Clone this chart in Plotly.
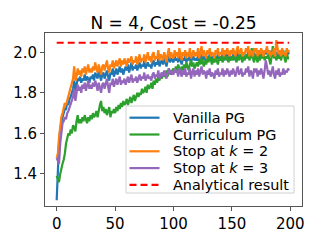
import plotly.graph_objects as go

steps = list(range(200))

vanilla = [
    1.27, 1.45, 1.55, 1.62, 1.66, 1.68, 1.70, 1.72, 1.72, 1.75,
    1.74, 1.77, 1.78, 1.80, 1.82, 1.86, 1.81, 1.84, 1.87, 1.86,
    1.88, 1.85, 1.87, 1.86, 1.89, 1.86, 1.88, 1.87, 1.85, 1.88,
    1.87, 1.89, 1.86, 1.90, 1.88, 1.87, 1.91, 1.88, 1.86, 1.89,
    1.90, 1.87, 1.89, 1.91, 1.88, 1.86, 1.90, 1.89, 1.92, 1.88,
    1.90, 1.92, 1.89, 1.91, 1.93, 1.90, 1.92, 1.89, 1.91, 1.93,
    1.91, 1.94, 1.90, 1.92, 1.95, 1.91, 1.93, 1.92, 1.94, 1.91,
    1.93, 1.95, 1.92, 1.94, 1.93, 1.96, 1.92, 1.94, 1.95, 1.93,
    1.94, 1.92, 1.95, 1.96, 1.93, 1.95, 1.94, 1.97, 1.93, 1.95,
    1.96, 1.94, 1.97, 1.95, 1.93, 1.96, 1.98, 1.95, 1.97, 1.96,
    1.95, 1.98, 1.96, 1.97, 1.95, 1.98, 1.96, 1.94, 1.97, 1.96,
    1.98, 1.95, 1.97, 1.96, 1.99, 1.95, 1.97, 1.98, 1.96, 1.97,
    1.96, 1.98, 1.95, 1.97, 1.99, 1.96, 1.98, 1.97, 1.95, 1.98,
    1.97, 1.99, 1.96, 1.98, 1.97, 1.95, 1.98, 1.97, 1.99, 1.96,
    1.98, 1.97, 1.99, 1.96, 1.98, 1.97, 1.99, 1.98, 1.96, 1.98,
    1.97, 1.99, 1.98, 1.96, 1.98, 2.00, 1.97, 1.98, 1.99, 1.97,
    1.98, 1.97, 1.99, 1.98, 2.00, 1.97, 1.99, 1.98, 1.97, 2.00,
    1.98, 1.99, 1.97, 2.00, 1.98, 1.99, 2.01, 1.98, 2.00, 1.99,
    2.02, 1.99, 2.01, 1.98, 2.00, 1.99, 2.01, 1.98, 2.00, 1.99,
    1.98, 2.00, 1.99, 2.01, 1.98, 2.00, 1.99, 2.01, 1.99, 2.00,
]

curriculum = [
    1.39, 1.37, 1.36, 1.40, 1.43, 1.45, 1.47, 1.50, 1.55, 1.58,
    1.60, 1.59, 1.62, 1.60, 1.64, 1.63, 1.61, 1.66, 1.69, 1.65,
    1.67, 1.65, 1.68, 1.66, 1.69, 1.67, 1.65, 1.68, 1.66, 1.69,
    1.67, 1.70, 1.68, 1.69, 1.71, 1.68, 1.72, 1.74, 1.76, 1.71,
    1.73, 1.70, 1.72, 1.69, 1.71, 1.73, 1.68, 1.71, 1.70, 1.72,
    1.70, 1.73, 1.71, 1.74, 1.72, 1.75, 1.73, 1.76, 1.74, 1.75,
    1.77, 1.74, 1.76, 1.78, 1.75, 1.77, 1.79, 1.76, 1.78, 1.80,
    1.78, 1.80, 1.79, 1.82, 1.80, 1.81, 1.83, 1.80, 1.84, 1.82,
    1.83, 1.85, 1.82, 1.86, 1.84, 1.87, 1.85, 1.88, 1.86, 1.89,
    1.87, 1.90, 1.88, 1.89, 1.91, 1.88, 1.92, 1.90, 1.89, 1.91,
    1.92, 1.90, 1.93, 1.91, 1.94, 1.92, 1.90, 1.93, 1.91, 1.94,
    1.92, 1.95, 1.93, 1.91, 1.94, 1.96, 1.93, 1.95, 1.92, 1.94,
    1.95, 1.93, 1.96, 1.94, 1.97, 1.95, 1.93, 1.96, 1.94, 1.97,
    1.95, 1.98, 1.96, 1.94, 1.97, 1.95, 1.98, 1.96, 1.94, 1.97,
    1.96, 1.98, 1.95, 1.97, 1.99, 1.96, 1.98, 1.95, 1.97, 1.96,
    1.98, 1.96, 1.99, 1.97, 1.95, 1.98, 1.96, 1.99, 1.97, 1.95,
    1.98, 1.96, 1.99, 1.97, 2.00, 1.96, 1.98, 2.02, 1.97, 1.95,
    1.99, 1.97, 1.95, 1.98, 1.96, 2.00, 1.97, 1.99, 1.96, 1.98,
    1.97, 1.99, 1.96, 1.94, 1.98, 2.03, 1.97, 1.99, 1.96, 1.98,
    1.97, 1.99, 1.96, 1.98, 2.01, 1.97, 1.95, 2.00, 1.97, 1.97,
]

stop_k2 = [
    1.48, 1.50, 1.58, 1.65, 1.68, 1.70, 1.72, 1.75, 1.74, 1.76,
    1.78, 1.80, 1.82, 1.85, 1.87, 1.93, 1.86, 1.88, 1.92, 1.89,
    1.91, 1.88, 1.92, 1.90, 1.93, 1.89, 1.91, 1.94, 1.90, 1.92,
    1.90, 1.93, 1.91, 1.95, 1.92, 1.90, 1.94, 1.92, 1.89, 1.93,
    1.94, 1.91, 1.93, 1.96, 1.92, 1.90, 1.94, 1.93, 1.96, 1.92,
    1.94, 1.96, 1.93, 1.95, 1.97, 1.93, 1.96, 1.94, 1.97, 1.95,
    1.93, 1.97, 1.95, 1.96, 1.98, 1.94, 1.96, 1.95, 1.98, 1.94,
    1.96, 1.99, 1.95, 1.97, 1.96, 1.99, 1.95, 1.97, 2.00, 1.96,
    1.98, 1.95, 1.99, 2.00, 1.96, 1.98, 1.97, 2.01, 1.96, 1.99,
    1.98, 1.96, 2.00, 1.98, 1.95, 1.99, 2.02, 1.97, 2.00, 1.98,
    1.97, 2.01, 1.98, 2.00, 1.97, 2.02, 1.99, 1.96, 2.00, 1.98,
    2.01, 1.97, 2.00, 1.98, 2.02, 1.97, 1.99, 2.01, 1.98, 2.00,
    1.98, 2.02, 1.97, 2.00, 2.03, 1.98, 2.01, 1.99, 1.97, 2.01,
    1.99, 2.02, 1.98, 2.00, 1.99, 1.97, 2.01, 1.99, 2.02, 1.98,
    2.00, 1.99, 2.02, 1.98, 2.01, 1.99, 2.02, 2.00, 1.98, 2.01,
    1.99, 2.02, 2.00, 1.98, 2.01, 2.03, 1.99, 2.00, 2.02, 1.98,
    2.00, 1.99, 2.02, 2.00, 2.03, 1.98, 2.01, 2.00, 1.98, 2.02,
    2.00, 2.02, 1.98, 2.01, 1.99, 2.02, 2.00, 1.98, 2.01, 2.00,
    2.03, 1.99, 2.01, 1.98, 2.00, 1.99, 2.02, 1.98, 2.06, 2.01,
    1.99, 2.01, 1.98, 2.02, 1.99, 2.00, 1.98, 2.02, 2.00, 2.01,
]

stop_k3 = [
    1.48, 1.46, 1.45, 1.55, 1.62, 1.65, 1.66, 1.68, 1.67, 1.70,
    1.71, 1.73, 1.74, 1.76, 1.78, 1.82, 1.76, 1.80, 1.84, 1.81,
    1.83, 1.80, 1.84, 1.82, 1.85, 1.81, 1.83, 1.86, 1.82, 1.84,
    1.82, 1.85, 1.83, 1.86, 1.84, 1.81, 1.85, 1.83, 1.80, 1.84,
    1.85, 1.82, 1.84, 1.87, 1.83, 1.80, 1.85, 1.84, 1.87, 1.83,
    1.85, 1.87, 1.84, 1.86, 1.88, 1.84, 1.86, 1.85, 1.87, 1.84,
    1.86, 1.88, 1.85, 1.87, 1.89, 1.85, 1.87, 1.86, 1.88, 1.85,
    1.87, 1.89, 1.86, 1.88, 1.87, 1.90, 1.86, 1.88, 1.89, 1.87,
    1.88, 1.86, 1.89, 1.90, 1.87, 1.89, 1.88, 1.91, 1.87, 1.89,
    1.90, 1.88, 1.91, 1.89, 1.87, 1.90, 1.92, 1.89, 1.91, 1.90,
    1.89, 1.92, 1.90, 1.91, 1.88, 1.92, 1.90, 1.88, 1.91, 1.89,
    1.92, 1.88, 1.90, 1.89, 1.92, 1.87, 1.90, 1.92, 1.88, 1.91,
    1.89, 1.92, 1.88, 1.90, 1.93, 1.89, 1.91, 1.90, 1.87, 1.91,
    1.89, 1.92, 1.88, 1.90, 1.89, 1.87, 1.91, 1.89, 1.92, 1.88,
    1.90, 1.89, 1.92, 1.88, 1.91, 1.89, 1.92, 1.90, 1.88, 1.91,
    1.89, 1.92, 1.90, 1.88, 1.91, 1.93, 1.89, 1.90, 1.92, 1.88,
    1.90, 1.89, 1.92, 1.90, 1.93, 1.88, 1.91, 1.90, 1.87, 1.92,
    1.90, 1.92, 1.88, 1.91, 1.89, 1.92, 1.90, 1.87, 1.91, 1.96,
    1.93, 1.89, 1.91, 1.88, 1.90, 1.93, 1.89, 1.87, 1.91, 1.89,
    1.92, 1.88, 1.90, 1.89, 1.92, 1.89, 1.91, 1.90, 1.92, 1.91,
]

analytical_value = 2.047
analytical_x = [0, 199]

series_names = ["Vanilla PG", "Curriculum PG", "Stop at <i>k</i> = 2", "Stop at <i>k</i> = 3"]
series_values = [vanilla, curriculum, stop_k2, stop_k3]
series_colors = ["#1f77b4", "#2ca02c", "#ff7f0e", "#9467bd"]
analytical_name = "Analytical result"
analytical_color = "#ff0000"

x_ticks = [0, 50, 100, 150, 200]
y_ticks = [1.4, 1.6, 1.8, 2.0]

# layout geometry (pixels)
W, H = 324, 243
ML, MR, MT, MB = 45, 22, 33, 37
PW, PH = W - ML - MR, H - MT - MB
dash_style = "7px,4px"

fig = go.Figure()
for name, vals, col in zip(series_names, series_values, series_colors):
    fig.add_trace(go.Scatter(x=steps, y=vals, mode="lines", name=name,
                             line=dict(color=col, width=2.2), showlegend=False,
                             hoverinfo="skip"))
fig.add_trace(go.Scatter(x=analytical_x, y=[analytical_value] * 2, mode="lines",
                         name=analytical_name, showlegend=False, hoverinfo="skip",
                         line=dict(color=analytical_color, width=2.2, dash=dash_style)))


def px_x(px):
    return (px - ML) / PW


def px_y(py):
    return (H - MB - py) / PH


# legend drawn as box + line samples + text, matplotlib style
shapes = [dict(type="rect", xref="paper", yref="paper",
               x0=px_x(126), x1=px_x(294), y0=px_y(193), y1=px_y(106),
               line=dict(color="#d0d0d0", width=1),
               fillcolor="rgba(255,255,255,0.8)", layer="above")]
annotations = []
legend_names = series_names + [analytical_name]
legend_colors = series_colors + [analytical_color]
legend_dash = ["solid"] * 4 + [dash_style]
row_y = [117.7, 134.5, 151.3, 168.1, 184.9]
for name, col, dsh, ry in zip(legend_names, legend_colors, legend_dash, row_y):
    shapes.append(dict(type="line", xref="paper", yref="paper",
                       x0=px_x(129.5), x1=px_x(159.5), y0=px_y(ry), y1=px_y(ry),
                       line=dict(color=col, width=2.2, dash=dsh), layer="above"))
    annotations.append(dict(xref="paper", yref="paper", x=px_x(171), y=px_y(ry),
                            xanchor="left", yanchor="middle", showarrow=False,
                            text=name, font=dict(size=14.4, color="black")))

font_family = "DejaVu Sans, sans-serif"
fig.update_layout(
    width=W, height=H,
    margin=dict(l=ML, r=MR, t=MT, b=MB, autoexpand=False),
    paper_bgcolor="white", plot_bgcolor="white",
    font=dict(family=font_family, size=15, color="black"),
    title=dict(text="N = 4, Cost = -0.25", x=0.5, xref="paper", xanchor="center",
               y=1.0, yref="paper", yanchor="bottom", pad=dict(b=4),
               font=dict(size=17)),
    showlegend=False,
    hovermode=False,
    shapes=shapes,
    annotations=annotations,
)
fig.update_xaxes(range=[-10, 210], tickvals=x_ticks, showgrid=False, zeroline=False,
                 showline=True, linecolor="#555555", linewidth=1, mirror=True,
                 ticks="outside", ticklen=4, tickcolor="#555555", automargin=False)
fig.update_yaxes(range=[1.242, 2.095], tickvals=y_ticks, tickformat=".1f",
                 showgrid=False, zeroline=False,
                 showline=True, linecolor="#555555", linewidth=1, mirror=True,
                 ticks="outside", ticklen=4, tickcolor="#555555", automargin=False)

fig.write_html("out.html", config={"displayModeBar": False},
               post_script="document.body.style.margin='0px';document.body.style.overflow='hidden';")
